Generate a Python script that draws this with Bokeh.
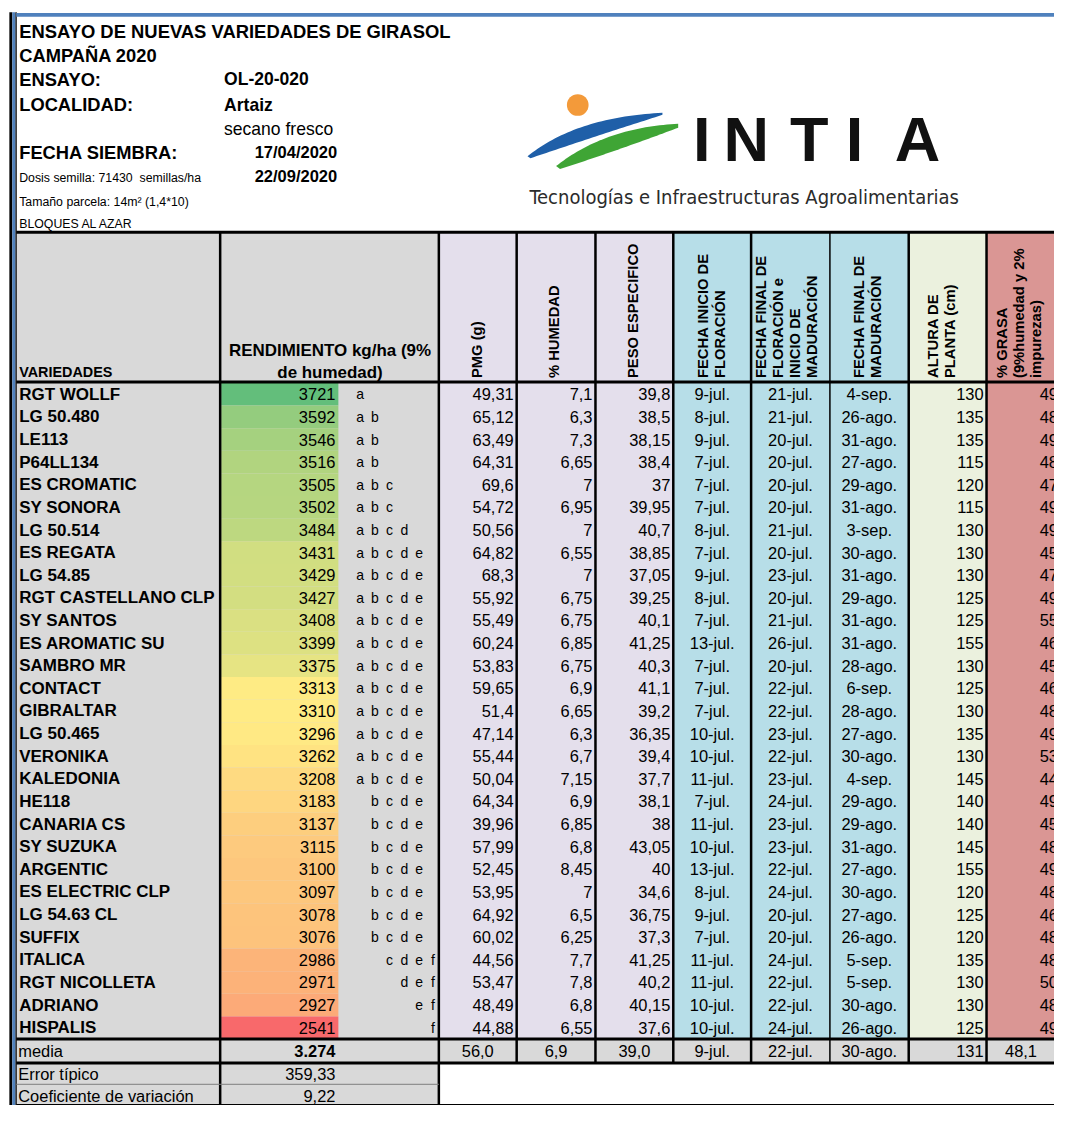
import numpy as np
from bokeh.plotting import figure
from bokeh.models import Range1d
from bokeh.core.properties import value
from bokeh.embed import file_html
from bokeh.resources import INLINE

# ---------------- DATA ----------------
variedades = ["RGT WOLLF", "LG 50.480", "LE113", "P64LL134", "ES CROMATIC", "SY SONORA",
              "LG 50.514", "ES REGATA", "LG 54.85", "RGT CASTELLANO CLP", "SY SANTOS",
              "ES AROMATIC SU", "SAMBRO MR", "CONTACT", "GIBRALTAR", "LG 50.465", "VERONIKA",
              "KALEDONIA", "HE118", "CANARIA CS", "SY SUZUKA", "ARGENTIC", "ES ELECTRIC CLP",
              "LG 54.63 CL", "SUFFIX", "ITALICA", "RGT NICOLLETA", "ADRIANO", "HISPALIS"]
rendimiento = [3721, 3592, 3546, 3516, 3505, 3502, 3484, 3431, 3429, 3427, 3408, 3399, 3375,
               3313, 3310, 3296, 3262, 3208, 3183, 3137, 3115, 3100, 3097, 3078, 3076, 2986,
               2971, 2927, 2541]
grupos = ["a", "a b", "a b", "a b", "a b c", "a b c", "a b c d"] + ["a b c d e"] * 11 + \
         ["b c d e"] * 7 + ["c d e f", "d e f", "e f", "f"]
pmg = [49.31, 65.12, 63.49, 64.31, 69.6, 54.72, 50.56, 64.82, 68.3, 55.92, 55.49, 60.24, 53.83,
       59.65, 51.4, 47.14, 55.44, 50.04, 64.34, 39.96, 57.99, 52.45, 53.95, 64.92, 60.02, 44.56,
       53.47, 48.49, 44.88]
humedad = [7.1, 6.3, 7.3, 6.65, 7, 6.95, 7, 6.55, 7, 6.75, 6.75, 6.85, 6.75, 6.9, 6.65, 6.3, 6.7,
           7.15, 6.9, 6.85, 6.8, 8.45, 7, 6.5, 6.25, 7.7, 7.8, 6.8, 6.55]
peso_especifico = [39.8, 38.5, 38.15, 38.4, 37, 39.95, 40.7, 38.85, 37.05, 39.25, 40.1, 41.25,
                   40.3, 41.1, 39.2, 36.35, 39.4, 37.7, 38.1, 38, 43.05, 40, 34.6, 36.75, 37.3,
                   41.25, 40.2, 40.15, 37.6]
inicio_floracion = ["9-jul.", "8-jul.", "9-jul.", "7-jul.", "7-jul.", "7-jul.", "8-jul.", "7-jul.",
                    "9-jul.", "8-jul.", "7-jul.", "13-jul.", "7-jul.", "7-jul.", "7-jul.", "10-jul.",
                    "10-jul.", "11-jul.", "7-jul.", "11-jul.", "10-jul.", "13-jul.", "8-jul.",
                    "9-jul.", "7-jul.", "11-jul.", "11-jul.", "10-jul.", "10-jul."]
final_floracion = ["21-jul.", "21-jul.", "20-jul.", "20-jul.", "20-jul.", "20-jul.", "21-jul.",
                   "20-jul.", "23-jul.", "20-jul.", "21-jul.", "26-jul.", "20-jul.", "22-jul.",
                   "22-jul.", "23-jul.", "22-jul.", "23-jul.", "24-jul.", "23-jul.", "23-jul.",
                   "22-jul.", "24-jul.", "20-jul.", "20-jul.", "24-jul.", "22-jul.", "22-jul.",
                   "24-jul."]
final_maduracion = ["4-sep.", "26-ago.", "31-ago.", "27-ago.", "29-ago.", "31-ago.", "3-sep.",
                    "30-ago.", "31-ago.", "29-ago.", "31-ago.", "31-ago.", "28-ago.", "6-sep.",
                    "28-ago.", "27-ago.", "30-ago.", "4-sep.", "29-ago.", "29-ago.", "31-ago.",
                    "27-ago.", "30-ago.", "27-ago.", "26-ago.", "5-sep.", "5-sep.", "30-ago.",
                    "26-ago."]
altura = [130, 135, 135, 115, 120, 115, 130, 130, 130, 125, 125, 155, 130, 125, 130, 135, 130,
          145, 140, 140, 145, 155, 120, 125, 120, 135, 130, 130, 125]
grasa = [49.0, 48.2, 49.1, 48.0, 47.3, 49.0, 49.2, 45.0, 47.1, 49.0, 55.0, 46.1, 45.2, 46.0,
         48.1, 49.0, 53.1, 44.2, 49.0, 45.1, 48.0, 49.1, 48.0, 46.2, 48.0, 48.1, 50.0, 48.0, 49.1]
media_labels = ["3.274", "56,0", "6,9", "39,0", "9-jul.", "22-jul.", "30-ago.", "131", "48,1"]
stats_labels = ["Error típico", "Coeficiente de variación"]
stats_values = ["359,33", "9,22"]

info_labels = ["ENSAYO:", "LOCALIDAD:", "FECHA SIEMBRA:"]
info_values = ["OL-20-020", "Artaiz", "17/04/2020"]

# ---------------- LAYOUT ----------------
W_REF, H = 1070, 1121
PW, PH = 1054, 1105
F = PW / W_REF
FONT = "Liberation Sans"


def Y(y):
    return H - np.asarray(y, dtype=float)


p = figure(width=PW, height=PH, x_range=Range1d(0, W_REF), y_range=Range1d(0, H),
           output_backend="svg", toolbar_location=None, min_border=0,
           x_axis_location=None, y_axis_location=None)
p.grid.visible = False
p.outline_line_color = None
p.background_fill_color = "white"
p.border_fill_color = "white"


def rect(l, r, t, b, color):
    p.quad(left=[l], right=[r], top=[float(Y(t))], bottom=[float(Y(b))],
           fill_color=color, line_color=None)


def txt(x, y, s, size, bold=False, align="left", baseline="middle", color="#000000",
        angle=0.0, font=FONT):
    xs = list(np.atleast_1d(x))
    ys = list(Y(np.atleast_1d(y)))
    ss = list(np.atleast_1d(s))
    n = max(len(xs), len(ys), len(ss))
    if len(xs) == 1:
        xs = xs * n
    if len(ys) == 1:
        ys = ys * n
    p.text(x=xs, y=ys, text=ss, text_font=value(font), text_font_size=f"{size * F:.2f}px",
           text_font_style="bold" if bold else "normal", text_align=align,
           text_baseline=baseline, text_color=color, angle=angle)


def hline(y, x0, x1, w=2.5, color="#000000"):
    p.segment(x0=[x0], x1=[x1], y0=[float(Y(y))], y1=[float(Y(y))], line_color=color, line_width=w)


def vline(x, y0, y1, w=2.5, color="#000000"):
    p.segment(x0=[x], x1=[x], y0=[float(Y(y0))], y1=[float(Y(y1))], line_color=color, line_width=w)


def fmt(v):
    return str(v).replace(".", ",")


# column edges and backgrounds
edges = [16, 223, 445, 524, 604, 683, 762, 842, 922, 1001, 1090]
col_bg = ["#d9d9d9", "#d9d9d9", "#e4dfec", "#e4dfec", "#e4dfec", "#b7dee8", "#b7dee8",
          "#b7dee8", "#ebf1de", "#da9694"]
HEAD_T, HEAD_B = 235, 387
ROW0, RH = 388, 22.95
n = len(variedades)
DATA_B = ROW0 + n * RH
MEDIA_B = 1078
rows_c = ROW0 + RH * (np.arange(n) + 0.5)

for i in range(len(col_bg)):
    rect(edges[i], edges[i + 1], HEAD_T, DATA_B, col_bg[i])
rect(16, 1090, DATA_B, MEDIA_B, "#d9d9d9")
rect(16, 445, MEDIA_B, 1120, "#d9d9d9")

# colour scale for yield
rmin, rmax = min(rendimiento), max(rendimiento)
rmid = float(np.percentile(rendimiento, 50))


def scale_color(v):
    if v >= rmid:
        t = (v - rmid) / (rmax - rmid)
        c0, c1 = (255, 235, 132), (99, 190, 123)
    else:
        t = (v - rmin) / (rmid - rmin)
        c0, c1 = (248, 105, 107), (255, 235, 132)
    return "#%02x%02x%02x" % tuple(int(round(a + (b - a) * t)) for a, b in zip(c0, c1))


p.quad(left=[224] * n, right=[343] * n, top=list(Y(ROW0 + RH * np.arange(n))),
       bottom=list(Y(ROW0 + RH * (np.arange(n) + 1))),
       fill_color=[scale_color(v) for v in rendimiento], line_color=None)

# ---------------- LEFT BAR & TOP LINE ----------------
rect(9, 12, 12, H + 5, "#000000")
rect(12, 15.2, 12, H + 5, "#4f81bd")
rect(15.2, 16.5, 12, H + 5, "#000000")
rect(16, 1090, 12.7, 16.5, "#4f81bd")

# ---------------- HEADER INFO ----------------
txt(19, 31, "ENSAYO DE NUEVAS VARIEDADES DE GIRASOL", 18.7, bold=True)
txt(19, 56, "CAMPAÑA 2020", 18.6, bold=True)
txt(19, [80, 106, 154], info_labels, 18.6, bold=True)
txt(227, [80, 106], info_values[:2], 17.8, bold=True)
txt(227, 130, "secano fresco", 17.8)
txt(258, 154, info_values[2], 16.75, bold=True)
txt(258, 178, "22/09/2020", 16.75, bold=True)
txt(19, 180, "Dosis semilla: 71430\u00a0\u00a0semillas/ha", 12.5)
txt(19, 204, "Tamaño parcela: 14m² (1,4*10)", 12.5)
txt(19, 227, "BLOQUES AL AZAR", 12.5)

# ---------------- LOGO ----------------
def bez(p0, c, p2, k=40):
    t = np.linspace(0, 1, k)
    x = (1 - t) ** 2 * p0[0] + 2 * (1 - t) * t * c[0] + t ** 2 * p2[0]
    y = (1 - t) ** 2 * p0[1] + 2 * (1 - t) * t * c[1] + t ** 2 * p2[1]
    return x, y


ux, uy = bez((535, 158), (585, 118), (672, 114))
lx, ly = bez((672, 116), (600, 139), (538, 160))
p.patch(x=list(np.r_[ux, lx]), y=list(Y(np.r_[uy, ly])), fill_color="#1f5fa8", line_color=None)
ux, uy = bez((564, 168), (613, 129), (688, 125))
lx, ly = bez((688, 129), (630, 151), (568, 171))
p.patch(x=list(np.r_[ux, lx]), y=list(Y(np.r_[uy, ly])), fill_color="#3fa535", line_color=None)
p.ellipse(x=[586], y=[float(Y(106))], width=22, height=22, fill_color="#f39a3a", line_color=None)
for ch, cx in zip("INTIA", [712, 757, 821, 867, 931]):
    txt(cx, 140, ch, 64, bold=True, align="center", color="#111111")
txt(755, 199, "Tecnologías e Infraestructuras Agroalimentarias", 20.3, align="center",
    color="#2b2b2b", font="Liberation Sans Narrow, DejaVu Sans Condensed, Liberation Sans")

# ---------------- TABLE HEADER ----------------
txt(19, 377, "VARIEDADES", 14.6, bold=True)
txt(334.5, 355, "RENDIMIENTO kg/ha (9%", 17.2, bold=True, align="center")
txt(334.5, 377, "de humedad)", 17.2, bold=True, align="center")

rot_headers = [
    (484, ["PMG (g)"]),
    (562, ["% HUMEDAD"]),
    (642, ["PESO ESPECIFICO"]),
    (722, ["FECHA INICIO DE", "FLORACIÓN"]),
    (798, ["FECHA FINAL DE", "FLORACIÓN e", "INICIO DE", "MADURACIÓN"]),
    (880, ["FECHA FINAL DE", "MADURACIÓN"]),
    (955, ["ALTURA DE", "PLANTA (cm)"]),
    (1034, ["% GRASA", "(9%humedad y 2%", "impurezas)"]),
]
LS = 17
for cx, lines in rot_headers:
    k = len(lines)
    xs = [cx + (j - (k - 1) / 2) * LS for j in range(k)]
    for xj, s in zip(xs, lines):
        txt(xj, 383, s, 15, bold=True, angle=np.pi / 2)

# ---------------- TABLE BODY ----------------
txt(19, rows_c, variedades, 17.25, bold=True)
txt(340, rows_c, [str(v) for v in rendimiento], 16.7, align="right")
slot = {"a": 365, "b": 380, "c": 395, "d": 410, "e": 425, "f": 439}
gx, gy, gs = [], [], []
for yc, g in zip(rows_c, grupos):
    for letter in g.split():
        gx.append(slot[letter])
        gy.append(yc)
        gs.append(letter)
txt(gx, gy, gs, 14.2, align="center")

txt(521, rows_c, [fmt(v) for v in pmg], 16.7, align="right")
txt(601, rows_c, [fmt(v) for v in humedad], 16.7, align="right")
txt(680, rows_c, [fmt(v) for v in peso_especifico], 16.7, align="right")
txt(722.5, rows_c, inicio_floracion, 16.7, align="center")
txt(802, rows_c, final_floracion, 16.7, align="center")
txt(882, rows_c, final_maduracion, 16.7, align="center")
txt(998, rows_c, [str(v) for v in altura], 16.7, align="right")
txt(1055, rows_c, [fmt(v) for v in grasa], 16.7, align="left")

# media row
YM = 1066
txt(18, YM, "media", 16.7)
txt(340, YM, media_labels[0], 16.7, bold=True, align="right")
txt([484.5, 564, 643.5, 722.5, 802, 882], YM, media_labels[1:7], 16.7, align="center")
txt(998, YM, media_labels[7], 16.7, align="right")
txt(1036, YM, media_labels[8], 16.7, align="center")

# stats rows
txt(18, [1089, 1111], stats_labels, 16.7)
txt(340, [1089, 1111], stats_values, 16.7, align="right")

# ---------------- GRID LINES ----------------
for x in edges[1:-1]:
    vline(x, HEAD_T, MEDIA_B, w=2.5 if x != 842 else 1.5)
vline(223, MEDIA_B, 1120, w=2.5)
vline(445, MEDIA_B, 1120, w=2.5)
hline(HEAD_T, 16, 1090, w=3)
hline(HEAD_B, 16, 1090, w=3)
hline(DATA_B, 16, 1090, w=3)
hline(MEDIA_B, 16, 1090, w=3)
hline(1099.5, 16, 445, w=1, color="#7f7f7f")
hline(1120, 16, 1090, w=1.2)

open("out.html", "w").write(file_html(p, INLINE))
